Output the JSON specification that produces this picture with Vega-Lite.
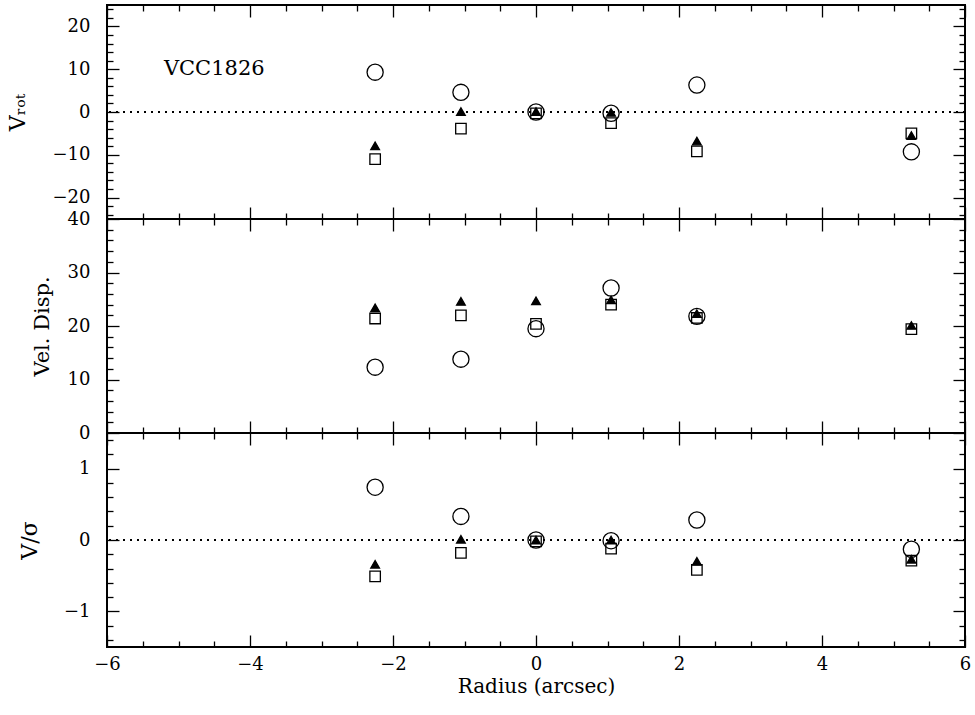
{
  "$schema": "https://vega.github.io/schema/vega-lite/v6.json",
  "padding": {"left": 5, "top": 3, "right": 5, "bottom": 5},
  "background": "white",
  "datasets": {
    "pts": [
      {"panel": "vrot", "r": -2.25, "s": "square", "v": -11.0},
      {"panel": "vrot", "r": -1.05, "s": "square", "v": -3.9},
      {"panel": "vrot", "r": 0, "s": "square", "v": -0.3},
      {"panel": "vrot", "r": 1.05, "s": "square", "v": -2.6},
      {"panel": "vrot", "r": 2.25, "s": "square", "v": -9.2},
      {"panel": "vrot", "r": 5.25, "s": "square", "v": -5.0},
      {"panel": "vrot", "r": -2.25, "s": "circle", "v": 9.3},
      {"panel": "vrot", "r": -1.05, "s": "circle", "v": 4.6},
      {"panel": "vrot", "r": 0, "s": "circle", "v": 0.0},
      {"panel": "vrot", "r": 1.05, "s": "circle", "v": -0.3},
      {"panel": "vrot", "r": 2.25, "s": "circle", "v": 6.3},
      {"panel": "vrot", "r": 5.25, "s": "circle", "v": -9.3},
      {"panel": "vrot", "r": -2.25, "s": "triangle", "v": -7.9},
      {"panel": "vrot", "r": -1.05, "s": "triangle", "v": 0.1},
      {"panel": "vrot", "r": 0, "s": "triangle", "v": 0.1},
      {"panel": "vrot", "r": 1.05, "s": "triangle", "v": -0.1},
      {"panel": "vrot", "r": 2.25, "s": "triangle", "v": -6.8},
      {"panel": "vrot", "r": 5.25, "s": "triangle", "v": -5.5},
      {"panel": "sig", "r": -2.25, "s": "square", "v": 21.4},
      {"panel": "sig", "r": -1.05, "s": "square", "v": 22.0},
      {"panel": "sig", "r": 0, "s": "square", "v": 20.4},
      {"panel": "sig", "r": 1.05, "s": "square", "v": 24.0},
      {"panel": "sig", "r": 2.25, "s": "square", "v": 21.5},
      {"panel": "sig", "r": 5.25, "s": "square", "v": 19.4},
      {"panel": "sig", "r": -2.25, "s": "circle", "v": 12.3},
      {"panel": "sig", "r": -1.05, "s": "circle", "v": 13.8},
      {"panel": "sig", "r": 0, "s": "circle", "v": 19.5},
      {"panel": "sig", "r": 1.05, "s": "circle", "v": 27.1},
      {"panel": "sig", "r": 2.25, "s": "circle", "v": 21.8},
      {"panel": "sig", "r": -2.25, "s": "triangle", "v": 23.4},
      {"panel": "sig", "r": -1.05, "s": "triangle", "v": 24.6},
      {"panel": "sig", "r": 0, "s": "triangle", "v": 24.7},
      {"panel": "sig", "r": 1.05, "s": "triangle", "v": 24.9},
      {"panel": "sig", "r": 2.25, "s": "triangle", "v": 22.3},
      {"panel": "sig", "r": 5.25, "s": "triangle", "v": 20.1},
      {"panel": "vs", "r": -2.25, "s": "square", "v": -0.51},
      {"panel": "vs", "r": -1.05, "s": "square", "v": -0.18},
      {"panel": "vs", "r": 0, "s": "square", "v": -0.02},
      {"panel": "vs", "r": 1.05, "s": "square", "v": -0.12},
      {"panel": "vs", "r": 2.25, "s": "square", "v": -0.42},
      {"panel": "vs", "r": 5.25, "s": "square", "v": -0.29},
      {"panel": "vs", "r": -2.25, "s": "circle", "v": 0.74},
      {"panel": "vs", "r": -1.05, "s": "circle", "v": 0.33},
      {"panel": "vs", "r": 0, "s": "circle", "v": 0.0},
      {"panel": "vs", "r": 1.05, "s": "circle", "v": -0.01},
      {"panel": "vs", "r": 2.25, "s": "circle", "v": 0.28},
      {"panel": "vs", "r": 5.25, "s": "circle", "v": -0.13},
      {"panel": "vs", "r": -2.25, "s": "triangle", "v": -0.34},
      {"panel": "vs", "r": -1.05, "s": "triangle", "v": 0.01},
      {"panel": "vs", "r": 0, "s": "triangle", "v": 0.0},
      {"panel": "vs", "r": 1.05, "s": "triangle", "v": 0.0},
      {"panel": "vs", "r": 2.25, "s": "triangle", "v": -0.30},
      {"panel": "vs", "r": 5.25, "s": "triangle", "v": -0.27}
    ],
    "lbl": [{"t": "VCC1826", "r": -4.5, "v": 10}]
  },
  "vconcat": [
    {
      "width": 858, "height": 214,
      "resolve": {"axis": {"x": "independent", "y": "independent"}},
      "layer": [
        {
          "data": {"name": "pts"},
          "transform": [{"filter": "datum.panel === 'vrot'"}],
          "mark": {"type": "rule", "strokeDash": [2, 5], "color": "black", "strokeWidth": 1},
          "encoding": {"y": {"datum": 0, "type": "quantitative", "scale": {"domain": [-25, 25], "nice": false, "zero": false}, "axis": null}}
        },
        {
          "data": {"name": "pts"},
          "transform": [{"filter": "datum.panel === 'vrot'"}],
          "mark": {"type": "point", "stroke": "black", "strokeWidth": 1.3, "opacity": 1},
          "encoding": {
            "x": {"field": "r", "type": "quantitative", "scale": {"domain": [-6, 6], "nice": false, "zero": false},
              "axis": {"orient": "bottom", "title": null, "labels": false, "values": [-6,-4,-2,0,2,4,6], "tickSize": -12}},
            "y": {"field": "v", "type": "quantitative", "scale": {"domain": [-25, 25], "nice": false, "zero": false},
              "axis": {"orient": "left", "title": "V\u1d63\u2092\u209c", "titleFontSize": 22, "titlePadding": 21, "minExtent": 57, "maxExtent": 57, "labelPadding": 29, "format": "d",
                "values": [-20,-10,0,10,20], "tickSize": -12}},
            "shape": {"field": "s", "type": "nominal", "scale": {"domain": ["square", "circle", "triangle"], "range": ["square", "circle", "triangle-up"]}, "legend": null},
            "fill": {"field": "s", "type": "nominal", "scale": {"domain": ["square", "circle", "triangle"], "range": ["transparent", "transparent", "black"]}, "legend": null},
            "size": {"field": "s", "type": "nominal", "scale": {"type": "ordinal", "domain": ["square", "circle", "triangle"], "range": [110, 260, 75]}, "legend": null}
          }
        },
        {
          "data": {"name": "pts"},
          "transform": [{"filter": "datum.panel === 'vrot'"}],
          "mark": {"type": "point", "opacity": 0},
          "encoding": {
            "x": {"field": "r", "type": "quantitative", "scale": {"domain": [-6, 6], "nice": false, "zero": false},
              "axis": {"orient": "bottom", "title": null, "labels": false, "values": [-5.5,-5,-4.5,-3.5,-3,-2.5,-1.5,-1,-0.5,0.5,1,1.5,2.5,3,3.5,4.5,5,5.5], "tickSize": -6}},
            "y": {"field": "v", "type": "quantitative", "scale": {"domain": [-25, 25], "nice": false, "zero": false},
              "axis": {"orient": "left", "title": null, "labels": false, "values": [-24,-22,-18,-16,-14,-12,-8,-6,-4,-2,2,4,6,8,12,14,16,18,22,24], "tickSize": -6}}
          }
        },
        {
          "data": {"name": "pts"},
          "transform": [{"filter": "datum.panel === 'vrot'"}],
          "mark": {"type": "point", "opacity": 0},
          "encoding": {
            "x": {"field": "r", "type": "quantitative", "scale": {"domain": [-6, 6], "nice": false, "zero": false},
              "axis": {"orient": "top", "title": null, "labels": false, "values": [-6,-4,-2,0,2,4,6], "tickSize": -12}},
            "y": {"field": "v", "type": "quantitative", "scale": {"domain": [-25, 25], "nice": false, "zero": false},
              "axis": {"orient": "right", "title": null, "labels": false, "values": [-20,-10,0,10,20], "tickSize": -12}}
          }
        },
        {
          "data": {"name": "pts"},
          "transform": [{"filter": "datum.panel === 'vrot'"}],
          "mark": {"type": "point", "opacity": 0},
          "encoding": {
            "x": {"field": "r", "type": "quantitative", "scale": {"domain": [-6, 6], "nice": false, "zero": false},
              "axis": {"orient": "top", "title": null, "labels": false, "values": [-5.5,-5,-4.5,-3.5,-3,-2.5,-1.5,-1,-0.5,0.5,1,1.5,2.5,3,3.5,4.5,5,5.5], "tickSize": -6}},
            "y": {"field": "v", "type": "quantitative", "scale": {"domain": [-25, 25], "nice": false, "zero": false},
              "axis": {"orient": "right", "title": null, "labels": false, "values": [-24,-22,-18,-16,-14,-12,-8,-6,-4,-2,2,4,6,8,12,14,16,18,22,24], "tickSize": -6}}
          }
        },
        {
          "data": {"name": "lbl"},
          "mark": {"type": "text", "font": "DejaVu Serif", "fontSize": 21, "align": "center", "baseline": "middle", "color": "black"},
          "encoding": {
            "x": {"field": "r", "type": "quantitative", "scale": {"domain": [-6, 6], "nice": false, "zero": false}, "axis": null},
            "y": {"field": "v", "type": "quantitative", "scale": {"domain": [-25, 25], "nice": false, "zero": false}, "axis": null},
            "text": {"field": "t"}
          }
        }
      ]
    },
    {
      "width": 858, "height": 214,
      "resolve": {"axis": {"x": "independent", "y": "independent"}},
      "layer": [
        {
          "data": {"name": "pts"},
          "transform": [{"filter": "datum.panel === 'sig'"}],
          "mark": {"type": "point", "stroke": "black", "strokeWidth": 1.3, "opacity": 1},
          "encoding": {
            "x": {"field": "r", "type": "quantitative", "scale": {"domain": [-6, 6], "nice": false, "zero": false},
              "axis": {"orient": "bottom", "title": null, "labels": false, "values": [-6,-4,-2,0,2,4,6], "tickSize": -12}},
            "y": {"field": "v", "type": "quantitative", "scale": {"domain": [0, 40], "nice": false, "zero": false},
              "axis": {"orient": "left", "title": "Vel. Disp.", "titleFontSize": 21, "titlePadding": -2, "minExtent": 57, "maxExtent": 57, "labelPadding": 29, "format": "d",
                "values": [0,10,20,30,40], "tickSize": -12}},
            "shape": {"field": "s", "type": "nominal", "scale": {"domain": ["square", "circle", "triangle"], "range": ["square", "circle", "triangle-up"]}, "legend": null},
            "fill": {"field": "s", "type": "nominal", "scale": {"domain": ["square", "circle", "triangle"], "range": ["transparent", "transparent", "black"]}, "legend": null},
            "size": {"field": "s", "type": "nominal", "scale": {"type": "ordinal", "domain": ["square", "circle", "triangle"], "range": [110, 260, 75]}, "legend": null}
          }
        },
        {
          "data": {"name": "pts"},
          "transform": [{"filter": "datum.panel === 'sig'"}],
          "mark": {"type": "point", "opacity": 0},
          "encoding": {
            "x": {"field": "r", "type": "quantitative", "scale": {"domain": [-6, 6], "nice": false, "zero": false},
              "axis": {"orient": "bottom", "title": null, "labels": false, "values": [-5.5,-5,-4.5,-3.5,-3,-2.5,-1.5,-1,-0.5,0.5,1,1.5,2.5,3,3.5,4.5,5,5.5], "tickSize": -6}},
            "y": {"field": "v", "type": "quantitative", "scale": {"domain": [0, 40], "nice": false, "zero": false},
              "axis": {"orient": "left", "title": null, "labels": false, "values": [2,4,6,8,12,14,16,18,22,24,26,28,32,34,36,38], "tickSize": -6}}
          }
        },
        {
          "data": {"name": "pts"},
          "transform": [{"filter": "datum.panel === 'sig'"}],
          "mark": {"type": "point", "opacity": 0},
          "encoding": {
            "x": {"field": "r", "type": "quantitative", "scale": {"domain": [-6, 6], "nice": false, "zero": false},
              "axis": {"orient": "top", "title": null, "labels": false, "values": [-6,-4,-2,0,2,4,6], "tickSize": -12}},
            "y": {"field": "v", "type": "quantitative", "scale": {"domain": [0, 40], "nice": false, "zero": false},
              "axis": {"orient": "right", "title": null, "labels": false, "values": [0,10,20,30,40], "tickSize": -12}}
          }
        },
        {
          "data": {"name": "pts"},
          "transform": [{"filter": "datum.panel === 'sig'"}],
          "mark": {"type": "point", "opacity": 0},
          "encoding": {
            "x": {"field": "r", "type": "quantitative", "scale": {"domain": [-6, 6], "nice": false, "zero": false},
              "axis": {"orient": "top", "title": null, "labels": false, "values": [-5.5,-5,-4.5,-3.5,-3,-2.5,-1.5,-1,-0.5,0.5,1,1.5,2.5,3,3.5,4.5,5,5.5], "tickSize": -6}},
            "y": {"field": "v", "type": "quantitative", "scale": {"domain": [0, 40], "nice": false, "zero": false},
              "axis": {"orient": "right", "title": null, "labels": false, "values": [2,4,6,8,12,14,16,18,22,24,26,28,32,34,36,38], "tickSize": -6}}
          }
        }
      ]
    },
    {
      "width": 858, "height": 214,
      "resolve": {"axis": {"x": "independent", "y": "independent"}},
      "layer": [
        {
          "data": {"name": "pts"},
          "transform": [{"filter": "datum.panel === 'vs'"}],
          "mark": {"type": "rule", "strokeDash": [2, 5], "color": "black", "strokeWidth": 1},
          "encoding": {"y": {"datum": 0, "type": "quantitative", "scale": {"domain": [-1.5, 1.5], "nice": false, "zero": false}, "axis": null}}
        },
        {
          "data": {"name": "pts"},
          "transform": [{"filter": "datum.panel === 'vs'"}],
          "mark": {"type": "point", "stroke": "black", "strokeWidth": 1.3, "opacity": 1},
          "encoding": {
            "x": {"field": "r", "type": "quantitative", "scale": {"domain": [-6, 6], "nice": false, "zero": false},
              "axis": {"orient": "bottom", "title": "Radius (arcsec)", "titleFontSize": 20, "titlePadding": 3, "labelPadding": 20, "format": "d",
                "values": [-6,-4,-2,0,2,4,6], "tickSize": -12}},
            "y": {"field": "v", "type": "quantitative", "scale": {"domain": [-1.5, 1.5], "nice": false, "zero": false},
              "axis": {"orient": "left", "title": "V/σ", "titleFontSize": 22, "titlePadding": 9, "minExtent": 57, "maxExtent": 57, "labelPadding": 29, "format": "d",
                "values": [-1,0,1], "tickSize": -12}},
            "shape": {"field": "s", "type": "nominal", "scale": {"domain": ["square", "circle", "triangle"], "range": ["square", "circle", "triangle-up"]}, "legend": null},
            "fill": {"field": "s", "type": "nominal", "scale": {"domain": ["square", "circle", "triangle"], "range": ["transparent", "transparent", "black"]}, "legend": null},
            "size": {"field": "s", "type": "nominal", "scale": {"type": "ordinal", "domain": ["square", "circle", "triangle"], "range": [110, 260, 75]}, "legend": null}
          }
        },
        {
          "data": {"name": "pts"},
          "transform": [{"filter": "datum.panel === 'vs'"}],
          "mark": {"type": "point", "opacity": 0},
          "encoding": {
            "x": {"field": "r", "type": "quantitative", "scale": {"domain": [-6, 6], "nice": false, "zero": false},
              "axis": {"orient": "bottom", "title": null, "labels": false, "values": [-5.5,-5,-4.5,-3.5,-3,-2.5,-1.5,-1,-0.5,0.5,1,1.5,2.5,3,3.5,4.5,5,5.5], "tickSize": -6}},
            "y": {"field": "v", "type": "quantitative", "scale": {"domain": [-1.5, 1.5], "nice": false, "zero": false},
              "axis": {"orient": "left", "title": null, "labels": false, "values": [-1.4,-1.2,-0.8,-0.6,-0.4,-0.2,0.2,0.4,0.6,0.8,1.2,1.4], "tickSize": -6}}
          }
        },
        {
          "data": {"name": "pts"},
          "transform": [{"filter": "datum.panel === 'vs'"}],
          "mark": {"type": "point", "opacity": 0},
          "encoding": {
            "x": {"field": "r", "type": "quantitative", "scale": {"domain": [-6, 6], "nice": false, "zero": false},
              "axis": {"orient": "top", "title": null, "labels": false, "values": [-6,-4,-2,0,2,4,6], "tickSize": -12}},
            "y": {"field": "v", "type": "quantitative", "scale": {"domain": [-1.5, 1.5], "nice": false, "zero": false},
              "axis": {"orient": "right", "title": null, "labels": false, "values": [-1,0,1], "tickSize": -12}}
          }
        },
        {
          "data": {"name": "pts"},
          "transform": [{"filter": "datum.panel === 'vs'"}],
          "mark": {"type": "point", "opacity": 0},
          "encoding": {
            "x": {"field": "r", "type": "quantitative", "scale": {"domain": [-6, 6], "nice": false, "zero": false},
              "axis": {"orient": "top", "title": null, "labels": false, "values": [-5.5,-5,-4.5,-3.5,-3,-2.5,-1.5,-1,-0.5,0.5,1,1.5,2.5,3,3.5,4.5,5,5.5], "tickSize": -6}},
            "y": {"field": "v", "type": "quantitative", "scale": {"domain": [-1.5, 1.5], "nice": false, "zero": false},
              "axis": {"orient": "right", "title": null, "labels": false, "values": [-1.4,-1.2,-0.8,-0.6,-0.4,-0.2,0.2,0.4,0.6,0.8,1.2,1.4], "tickSize": -6}}
          }
        }
      ]
    }
  ],
  "spacing": 0,
  "bounds": "flush",
  "resolve": {"scale": {"y": "independent"}},
  "config": {
    "view": {"stroke": "black", "strokeWidth": 2},
    "axis": {
      "domain": false, "grid": false, "tickColor": "black", "tickWidth": 1.3,
      "labelFont": "DejaVu Serif", "labelFontSize": 18, "labelColor": "black",
      "titleFont": "DejaVu Serif", "titleFontWeight": "normal", "titleColor": "black",
      "labelOverlap": false, "labelFlush": false
    }
  }
}
